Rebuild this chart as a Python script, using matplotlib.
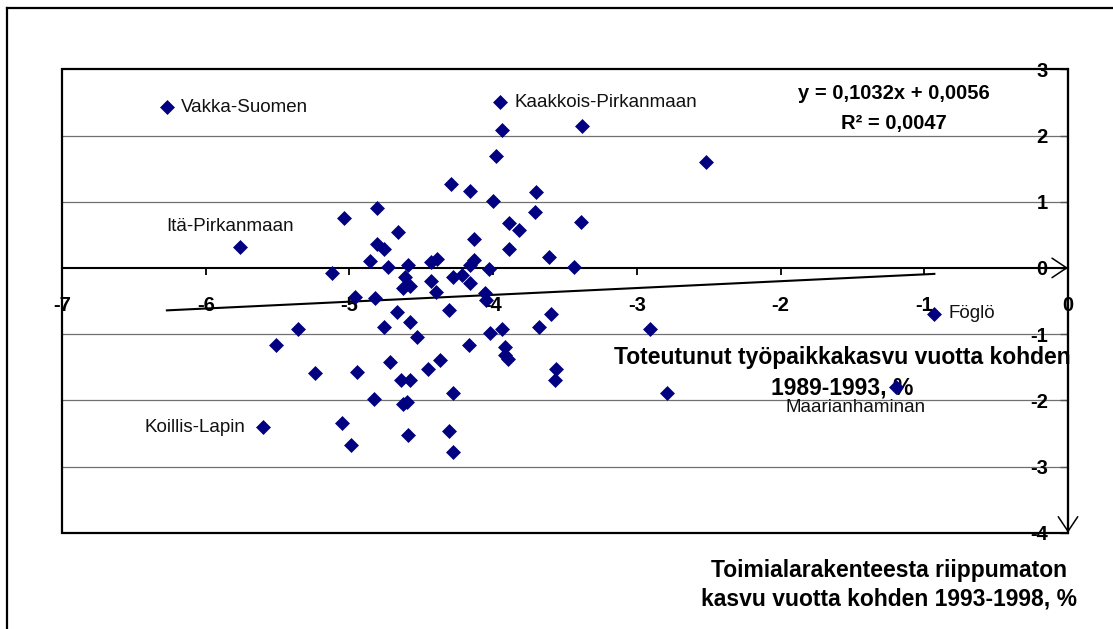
import numpy as np
import matplotlib.pyplot as plt
from matplotlib.lines import Line2D
from matplotlib.patches import Rectangle

plt.rcParams['font.family'] = ['Liberation Sans', 'DejaVu Sans']

# labelled regions
label_names = ["Vakka-Suomen", "Kaakkois-Pirkanmaan", "Itä-Pirkanmaan",
               "Koillis-Lapin", "Föglö", "Maarianhaminan"]
label_x = [-6.27, -3.95, -5.76, -5.60, -0.93, -1.20]
label_y = [2.43, 2.50, 0.32, -2.41, -0.69, -1.80]

# the rest of the regions
other_x = [-3.38, -3.94, -3.98, -2.52, -4.29, -4.16, -4.00, -3.70, -3.71, -3.39,
           -3.89, -3.82, -4.13, -3.89, -3.61, -3.44, -5.04, -4.81, -4.66, -4.81,
           -4.76, -4.86, -5.12, -4.73, -4.59, -4.61, -4.63, -4.58, -4.43, -4.39,
           -4.43, -4.40, -4.82, -4.96, -4.67, -4.13, -4.16, -4.03, -4.28, -4.22,
           -4.16, -4.06, -4.05, -4.31, -3.60, -4.58, -4.76, -5.36, -4.53, -5.51,
           -4.72, -4.37, -5.24, -4.95, -4.45, -4.64, -4.58, -4.83, -4.63, -4.60,
           -5.05, -4.99, -4.59, -4.02, -3.94, -3.68, -4.17, -3.92, -3.92, -3.90,
           -3.56, -3.57, -4.28, -4.31, -4.28, -2.91, -2.79]
other_y = [2.14, 2.09, 1.69, 1.60, 1.26, 1.16, 1.01, 1.15, 0.85, 0.69,
           0.68, 0.57, 0.43, 0.29, 0.16, 0.02, 0.75, 0.90, 0.54, 0.36,
           0.28, 0.10, -0.07, 0.01, 0.04, -0.13, -0.30, -0.28, 0.09, 0.13,
           -0.20, -0.37, -0.45, -0.44, -0.66, 0.12, 0.04, -0.02, -0.13, -0.11,
           -0.23, -0.38, -0.49, -0.63, -0.70, -0.82, -0.89, -0.92, -1.04, -1.17,
           -1.42, -1.39, -1.59, -1.58, -1.53, -1.70, -1.70, -1.98, -2.06, -2.02,
           -2.35, -2.68, -2.52, -0.99, -0.92, -0.89, -1.16, -1.20, -1.32, -1.38,
           -1.52, -1.70, -1.89, -2.47, -2.78, -0.92, -1.89]

# linear trend as printed on the chart
slope = 0.1032
intercept = 0.0056
eq_text = "y = 0,1032x + 0,0056"
r2_text = "R² = 0,0047"

x_ticks = [-7, -6, -5, -4, -3, -2, -1, 0]
y_ticks = [-4, -3, -2, -1, 0, 1, 2, 3]

x_title_lines = ["Toteutunut työpaikkakasvu vuotta kohden", "1989-1993, %"]
y_title = "Toimialarakenteesta riippumaton\nkasvu vuotta kohden 1993-1998, %"

# label placement offsets (points) and alignment
label_pos = {
    "Vakka-Suomen": ((10, 0), "left", "center"),
    "Kaakkois-Pirkanmaan": ((10.5, 0), "left", "center"),
    "Itä-Pirkanmaan": ((-7, 14.5), "center", "center"),
    "Koillis-Lapin": ((-13, 0), "right", "center"),
    "Föglö": ((10.5, 0), "left", "center"),
    "Maarianhaminan": ((-28.5, -15), "center", "center"),
}

NAVY = "#000080"

fig = plt.figure(figsize=(11.13, 6.29), dpi=100)
ax = fig.add_axes([62 / 1113, 1 - 532.7 / 629, 1006 / 1113, 463.4 / 629])
ax.set_xlim(-7, 0)
ax.set_ylim(-4, 3)

# grid
for yv in y_ticks:
    if yv not in (-4, 0, 3):
        ax.axhline(yv, color="#707070", lw=0.9, zorder=0)

# plot area frame
ax.add_patch(Rectangle((0, 0), 1, 1, transform=ax.transAxes, fill=False,
                       lw=1.6, edgecolor="black", zorder=4, clip_on=False))
for s in ("top", "left"):
    ax.spines[s].set_visible(False)
ax.spines["right"].set_linewidth(1.5)
ax.spines["bottom"].set_position(("data", 0))
ax.spines["bottom"].set_linewidth(1.5)

ax.set_xticks(x_ticks)
ax.set_xticklabels([str(v) for v in x_ticks])
ax.tick_params(axis="x", direction="out", length=5, width=1.3, pad=15,
               labelsize=14.5)
for lab in ax.get_xticklabels():
    lab.set_fontweight("bold")

ax.set_yticks(y_ticks)
ax.set_yticklabels([str(v) for v in y_ticks])
ax.yaxis.set_ticks_position("right")
ax.tick_params(axis="y", direction="in", length=6, width=1, color="#555555",
               labelleft=False, labelright=True, pad=-14.5, labelsize=14.5)
for lab in ax.get_yticklabels():
    lab.set_fontweight("bold")
    lab.set_horizontalalignment("right")

# arrows on the axes
ax.annotate("", xy=(0, 0), xytext=(-0.25, 0), annotation_clip=False,
            arrowprops=dict(arrowstyle="->,head_length=0.75,head_width=0.5",
                            lw=1.1, color="black", mutation_scale=14,
                            shrinkA=0, shrinkB=0))
ax.annotate("", xy=(0, -4), xytext=(0, -3.6), annotation_clip=False,
            arrowprops=dict(arrowstyle="->,head_length=0.75,head_width=0.5",
                            lw=1.1, color="black", mutation_scale=14,
                            shrinkA=0, shrinkB=0))

# trend line
all_x = np.array(label_x + other_x)
tx = np.array([all_x.min(), all_x.max()])
ax.plot(tx, slope * tx + intercept, color="black", lw=1.5, zorder=2)

# points
ax.scatter(other_x, other_y, marker="D", s=58, color=NAVY, linewidths=0, zorder=3)
ax.scatter(label_x, label_y, marker="D", s=58, color=NAVY, linewidths=0, zorder=3)

for name, xv, yv in zip(label_names, label_x, label_y):
    off, ha, va = label_pos[name]
    ax.annotate(name, (xv, yv), xytext=off, textcoords="offset points",
                ha=ha, va=va, fontsize=13.5, color="#111111", zorder=5)

# regression equation
ax.text(0.827, 0.9467, eq_text, transform=ax.transAxes, ha="center",
        va="center", fontsize=14.5, fontweight="bold")
ax.text(0.827, 0.884, r2_text, transform=ax.transAxes, ha="center",
        va="center", fontsize=14.5, fontweight="bold")

# axis titles
ax.text(0.776, 0.378, x_title_lines[0], transform=ax.transAxes, ha="center",
        va="center", fontsize=16.5, fontweight="bold", zorder=1)
ax.text(0.776, 0.312, x_title_lines[1], transform=ax.transAxes, ha="center",
        va="center", fontsize=16.5, fontweight="bold", zorder=1)
fig.text(889 / 1113, 1 - 585 / 629, y_title, ha="center", va="center",
         fontsize=16.5, fontweight="bold", linespacing=1.3)

# outer chart frame
fig.add_artist(Line2D([7 / 1113, 7 / 1113], [0, 1 - 8 / 629], color="black", lw=1.6))
fig.add_artist(Line2D([7 / 1113, 1], [1 - 8 / 629, 1 - 8 / 629], color="black", lw=1.6))

fig.savefig("out.png", dpi=100)
